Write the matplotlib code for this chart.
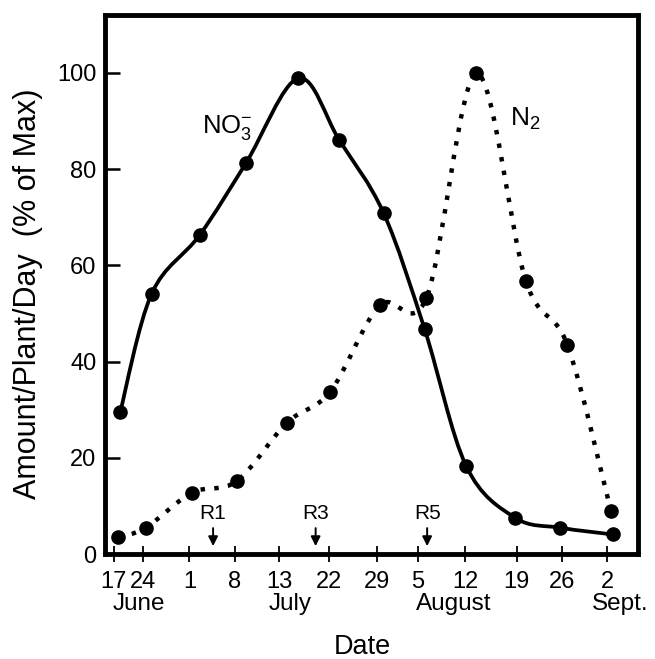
import numpy as np
import matplotlib
matplotlib.use("Agg")
import matplotlib.pyplot as plt
from matplotlib.path import Path
from matplotlib.patches import PathPatch

plt.rcParams['font.family'] = ['Liberation Sans', 'DejaVu Sans']
plt.rcParams['mathtext.fontset'] = 'custom'
plt.rcParams['mathtext.rm'] = 'Liberation Sans'
plt.rcParams['mathtext.it'] = 'Liberation Sans:italic'

# x axis in days after June 17 (positions)
tick_pos = [0, 4.5, 11.8, 18.9, 25.8, 33.6, 41.1, 47.5, 54.8, 62.9, 70.0, 77.0]
tick_lab = ["17", "24", "1", "8", "13", "22", "29", "5", "12", "19", "26", "2"]
month_pos = [4.0, 27.6, 53.1, 79.0]
month_lab = ["June", "July", "August", "Sept."]

# NO3- uptake (% of max)
no3_x = [1.0, 5.9, 13.4, 20.6, 28.8, 35.2, 42.1, 48.5, 55.0, 62.6, 69.7, 77.9]
no3_y = [29.5, 54.1, 66.3, 81.2, 98.9, 86.0, 70.9, 46.8, 18.3, 7.6, 5.5, 4.1]

# N2 fixation (% of max)
n2_x = [0.7, 5.0, 12.2, 19.2, 27.0, 33.8, 41.5, 48.8, 56.6, 64.3, 70.8, 77.6]
n2_y = [3.6, 5.5, 12.8, 15.2, 27.3, 33.8, 51.7, 53.3, 99.9, 56.8, 43.4, 8.9]

# reproductive stages
stage_x = [15.5, 31.5, 48.9]
stage_lab = ["R1", "R3", "R5"]


def smooth_path(xs, ys):
    # catmull-rom through the points, drawn as cubic bezier segments
    p = np.column_stack([xs, ys]).astype(float)
    p = np.vstack([p[0], p, p[-1]])
    verts = [tuple(p[1])]
    codes = [Path.MOVETO]
    for i in range(1, len(p) - 2):
        c1 = p[i] + (p[i + 1] - p[i - 1]) / 6
        c2 = p[i + 1] - (p[i + 2] - p[i]) / 6
        verts += [tuple(c1), tuple(c2), tuple(p[i + 1])]
        codes += [Path.CURVE4] * 3
    return Path(verts, codes)


fig = plt.figure(figsize=(6.55, 6.59), dpi=100)
ax = fig.add_axes([0.160, 0.159, 0.814, 0.818])

ax.add_patch(PathPatch(smooth_path(n2_x, n2_y), fill=False, lw=3.2,
                       linestyle=(0, (1, 2.1)), edgecolor='black'))
ax.plot(n2_x, n2_y, 'o', color='black', ms=9.5)

ax.add_patch(PathPatch(smooth_path(no3_x, no3_y), fill=False, lw=2.7,
                       edgecolor='black', zorder=3))
ax.plot(no3_x, no3_y, 'o', color='black', ms=9.5, zorder=4)

ax.text(13.7, 87.6, r'NO$_3^{-}$', fontsize=18.5, ha='left', va='baseline')
ax.text(61.8, 89.0, r'N$_2$', fontsize=19, ha='left', va='baseline')

for sx, sl in zip(stage_x, stage_lab):
    ax.text(sx, 7.4, sl, fontsize=15, ha='center', va='baseline')
    ax.annotate('', xy=(sx, 1.1), xytext=(sx, 6.0),
                arrowprops=dict(arrowstyle='-|>', color='black', lw=1.4,
                                mutation_scale=14))

ax.set_xlim(-1.4, 81.8)
ax.set_ylim(0, 112)
ax.set_yticks([0, 20, 40, 60, 80, 100])
ax.set_xticks(tick_pos)
ax.set_xticklabels(tick_lab)
ax.tick_params(axis='y', direction='in', length=11, width=1.8, pad=6, labelsize=17)
ax.tick_params(axis='x', direction='inout', length=11.5, width=1.3, pad=6, labelsize=17)

for m, ml in zip(month_pos, month_lab):
    ax.text(m, -0.104, ml, fontsize=17.5, ha='center', va='baseline',
            transform=ax.get_xaxis_transform())

for s in ax.spines.values():
    s.set_linewidth(3.5)

fig.text(0.553, 0.007, 'Date', fontsize=19.5, ha='center', va='baseline')
fig.text(0.043, 0.555, 'Amount/Plant/Day  (% of Max)', fontsize=22,
         rotation=90, ha='center', va='center')

fig.savefig('out.png', dpi=100)
